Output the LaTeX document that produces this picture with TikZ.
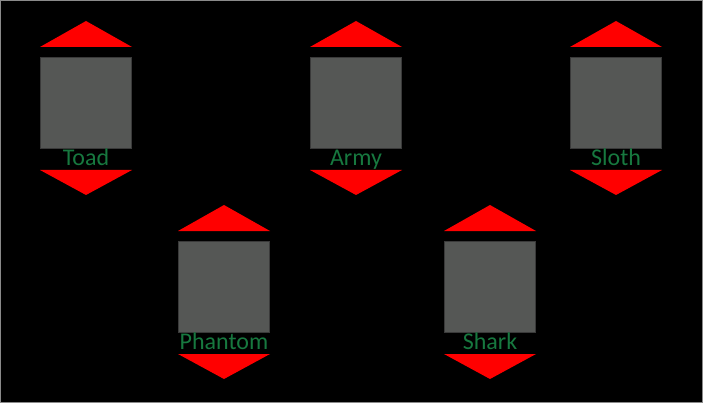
\documentclass[tikz,border=0pt]{standalone}
\usepackage{fontspec}
\setmainfont{Carlito}
\definecolor{boxfill}{HTML}{555755}
\definecolor{boxline}{HTML}{3A3A3A}
\definecolor{labelgreen}{HTML}{17783F}
\definecolor{frame}{HTML}{8A8A8A}
\begin{document}
\begin{tikzpicture}[x=1pt,y=-1pt,
  sqbox/.style={draw=boxline,line width=0.8pt,fill=boxfill,minimum width=91pt,minimum height=91pt,inner sep=0pt,outer sep=0pt,anchor=north west},
  tri/.style={fill=red,draw=none},
  lbl/.style={text=labelgreen,font=\fontsize{24}{24}\selectfont,anchor=base,inner sep=0pt}]
\fill[black] (0,0) rectangle (703,403);
\useasboundingbox (0,0) rectangle (703,403);
\draw[frame,line width=1pt] (0.5,0.5) rectangle (702.5,402.5);
\foreach \x/\y/\t/\n in {40/57/Toad/toad,310/57/Army/army,570/57/Sloth/sloth,178/241/Phantom/phantom,444/241/Shark/shark}{
  \node[sqbox] (sq-\n) at (\x,\y) {};
  \fill[tri] (\x,\y-10) -- (\x+46,\y-36) -- (\x+92,\y-10) -- cycle;
  \fill[tri] (\x,\y+113) -- (\x+92,\y+113) -- (\x+46,\y+138) -- cycle;
  \node[lbl] (lb-\n) at (\x+46,\y+108.5) {\t};
}
\end{tikzpicture}
\end{document}
